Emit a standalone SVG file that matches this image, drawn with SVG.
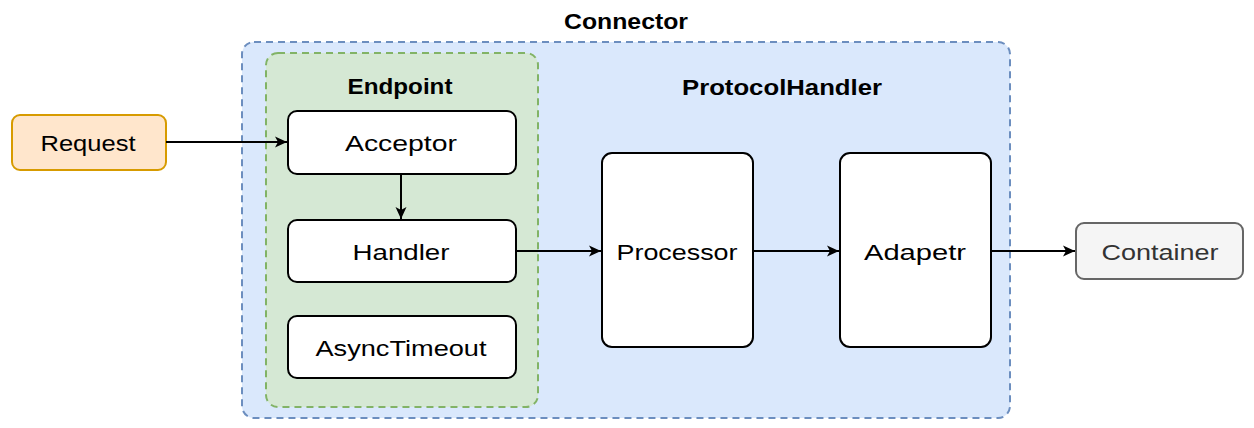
<svg xmlns="http://www.w3.org/2000/svg" width="1254" height="428" viewBox="0 0 1254 428">
<style>
.t{font-family:"Liberation Sans",Arial,sans-serif;font-size:22px;fill:#000;text-anchor:middle}
.b{font-weight:bold}
.box{fill:#fff;stroke:#000;stroke-width:2}
.edge{fill:none;stroke:#000;stroke-width:2}
</style>
<defs>
<marker id="arr" markerWidth="14" markerHeight="12" refX="12" refY="6" orient="auto" markerUnits="userSpaceOnUse">
<path d="M0,0.5 L12,6 L0,11.5 L3,6 Z" fill="#000"/>
</marker>
</defs>
<rect width="1254" height="428" fill="#fff"/>
<g id="connector">
<rect x="242" y="42" width="768" height="376" rx="12" fill="#dae8fc" stroke="#6c8ebf" stroke-width="2" stroke-dasharray="7,5"/>
<text class="t b" x="626" y="29" textLength="124" lengthAdjust="spacingAndGlyphs">Connector</text>
<text class="t b" x="782" y="95" textLength="200" lengthAdjust="spacingAndGlyphs">ProtocolHandler</text>
</g>
<g id="endpoint">
<rect x="266" y="53" width="272" height="354" rx="12" fill="#d5e8d4" stroke="#82b366" stroke-width="2" stroke-dasharray="7,5"/>
<text class="t b" x="400" y="94" textLength="105" lengthAdjust="spacingAndGlyphs">Endpoint</text>
</g>
<g id="request">
<rect x="12" y="115" width="154" height="55" rx="8" fill="#ffe6cc" stroke="#d79b00" stroke-width="2"/>
<text class="t" x="88" y="151" textLength="95" lengthAdjust="spacingAndGlyphs">Request</text>
</g>
<g id="acceptor">
<rect class="box" x="288" y="111" width="228" height="63" rx="9"/>
<text class="t" x="401" y="151" textLength="112" lengthAdjust="spacingAndGlyphs">Acceptor</text>
</g>
<g id="handler">
<rect class="box" x="288" y="220" width="228" height="62" rx="9"/>
<text class="t" x="401" y="260" textLength="97" lengthAdjust="spacingAndGlyphs">Handler</text>
</g>
<g id="asynctimeout">
<rect class="box" x="288" y="316" width="228" height="62" rx="9"/>
<text class="t" x="401" y="356" textLength="171" lengthAdjust="spacingAndGlyphs">AsyncTimeout</text>
</g>
<g id="processor">
<rect class="box" x="602" y="153" width="151" height="194" rx="10"/>
<text class="t" x="677" y="260" textLength="121" lengthAdjust="spacingAndGlyphs">Processor</text>
</g>
<g id="adapetr">
<rect class="box" x="840" y="153" width="151" height="194" rx="10"/>
<text class="t" x="915" y="260" textLength="102" lengthAdjust="spacingAndGlyphs">Adapetr</text>
</g>
<g id="container">
<rect x="1076" y="223" width="167" height="56" rx="8" fill="#f5f5f5" stroke="#666666" stroke-width="2"/>
<text class="t" x="1160" y="260" style="fill:#333333" textLength="117" lengthAdjust="spacingAndGlyphs">Container</text>
</g>
<g id="connectors">
<line class="edge" x1="166" y1="142" x2="287" y2="142" marker-end="url(#arr)"/>
<line class="edge" x1="401" y1="174" x2="401" y2="219" marker-end="url(#arr)"/>
<line class="edge" x1="516" y1="251" x2="601" y2="251" marker-end="url(#arr)"/>
<line class="edge" x1="753" y1="251" x2="839" y2="251" marker-end="url(#arr)"/>
<line class="edge" x1="991" y1="251" x2="1075" y2="251" marker-end="url(#arr)"/>
</g>
</svg>
